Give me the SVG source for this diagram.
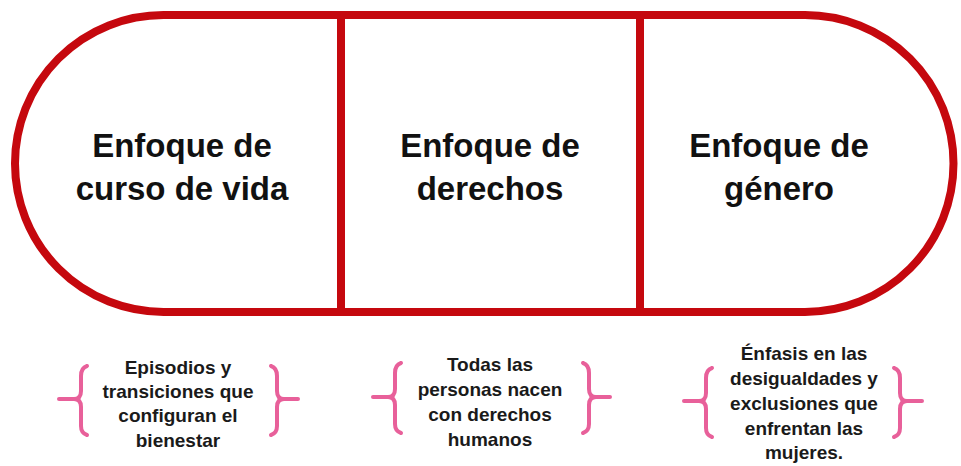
<svg xmlns="http://www.w3.org/2000/svg" width="961" height="466" viewBox="0 0 961 466">
<style>
.frame{fill:none;stroke:#c5080e;stroke-width:8}
.title{font-family:"Liberation Sans",Arial,sans-serif;font-weight:bold;font-size:33px;fill:#111;text-anchor:middle}
.desc{font-family:"Liberation Sans",Arial,sans-serif;font-weight:bold;font-size:19px;fill:#1a1a1a;text-anchor:middle}
.br{fill:none;stroke:#e8609a;stroke-width:4;stroke-linecap:round;stroke-linejoin:round}
</style>
<rect width="961" height="466" fill="#fff"/>
<g id="connectors">
<path class="frame" d="M163.5 15 L805 15 A148.5 148.5 0 0 1 805 312 L163.5 312 A148.5 148.5 0 0 1 163.5 15 Z"/>
<line class="frame" x1="341" y1="15" x2="341" y2="312"/>
<line class="frame" x1="640" y1="15" x2="640" y2="312"/>
</g>
<g id="node-curso">
<text class="title" x="182" y="157">Enfoque de</text>
<text class="title" x="182" y="200">curso de vida</text>
</g>
<g id="node-derechos">
<text class="title" x="490" y="157">Enfoque de</text>
<text class="title" x="490" y="200">derechos</text>
</g>
<g id="node-genero">
<text class="title" x="779" y="157">Enfoque de</text>
<text class="title" x="779" y="200">género</text>
</g>
<g id="desc-curso">
<path class="br" d="M87 366 Q81 368 81 376 L81 391 Q81 399 74 399 L59 399 M74 399 Q81 399 81 407 L81 426 Q81 433 87 435"/>
<path class="br" d="M271 366 Q277 368 277 376 L277 391 Q277 399 284 399 L298 399 M284 399 Q277 399 277 407 L277 426 Q277 433 271 435"/>
<text class="desc" x="178" y="374">Episodios y</text>
<text class="desc" x="178" y="398">transiciones que</text>
<text class="desc" x="178" y="422">configuran el</text>
<text class="desc" x="178" y="447">bienestar</text>
</g>
<g id="desc-derechos">
<path class="br" d="M401 363 Q395 365 395 373 L395 389 Q395 397 388 397 L373 397 M388 397 Q395 397 395 405 L395 424 Q395 431 401 433"/>
<path class="br" d="M583 363 Q589 365 589 373 L589 389 Q589 397 596 397 L610 397 M596 397 Q589 397 589 405 L589 424 Q589 431 583 433"/>
<text class="desc" x="490" y="371">Todas las</text>
<text class="desc" x="490" y="396">personas nacen</text>
<text class="desc" x="490" y="421">con derechos</text>
<text class="desc" x="490" y="446">humanos</text>
</g>
<g id="desc-genero">
<path class="br" d="M712 368 Q706 370 706 378 L706 393 Q706 401 699 401 L684 401 M699 401 Q706 401 706 409 L706 428 Q706 435 712 437"/>
<path class="br" d="M894 368 Q900 370 900 378 L900 393 Q900 401 907 401 L922 401 M907 401 Q900 401 900 409 L900 428 Q900 435 894 437"/>
<text class="desc" x="804" y="360">Énfasis en las</text>
<text class="desc" x="804" y="385">desigualdades y</text>
<text class="desc" x="804" y="410">exclusiones que</text>
<text class="desc" x="804" y="435">enfrentan las</text>
<text class="desc" x="804" y="459">mujeres.</text>
</g>
</svg>
